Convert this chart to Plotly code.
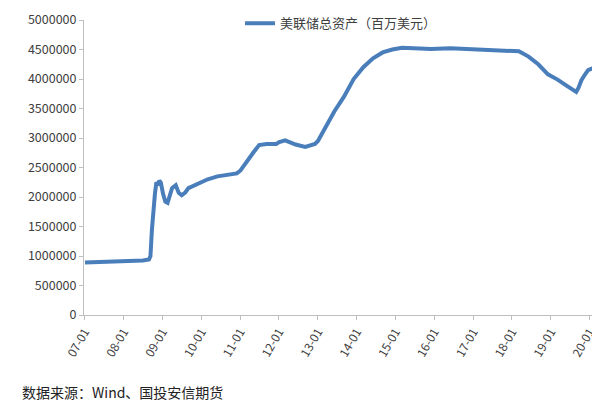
import plotly.graph_objects as go

dates = [
    "2007-01-03", "2007-04-01", "2007-07-01", "2007-10-01", "2008-01-01", "2008-04-01",
    "2008-07-01", "2008-08-27", "2008-09-10", "2008-09-24", "2008-10-08", "2008-10-22",
    "2008-11-05", "2008-11-19", "2008-12-03", "2008-12-17", "2009-01-07", "2009-01-28",
    "2009-02-18", "2009-03-11", "2009-04-01", "2009-05-06", "2009-06-03", "2009-07-01",
    "2009-08-05", "2009-09-02", "2009-10-07", "2009-11-04", "2009-12-02", "2010-01-06",
    "2010-03-03", "2010-06-02", "2010-09-01", "2010-12-01", "2011-01-05", "2011-03-02",
    "2011-05-04", "2011-06-29", "2011-09-07", "2011-12-07", "2012-01-04", "2012-02-29",
    "2012-06-06", "2012-09-05", "2012-12-05", "2013-01-02", "2013-03-06", "2013-06-05",
    "2013-09-04", "2013-12-04", "2014-03-05", "2014-06-04", "2014-09-03", "2014-12-03",
    "2015-03-04", "2015-06-03", "2015-12-02", "2016-06-01", "2016-12-07", "2017-06-07",
    "2017-12-06", "2018-03-07", "2018-06-06", "2018-09-05", "2018-12-05", "2019-03-06",
    "2019-06-05", "2019-08-28", "2019-09-18", "2019-10-16", "2019-11-20", "2019-12-18",
    "2020-01-15", "2020-02-19", "2020-03-04",
]
assets = [
    890000, 895000, 900000, 895000, 915000, 910000,
    925000, 940000, 1000000, 1450000, 1800000, 2050000,
    2250000, 2200000, 2280000, 2240000, 2050000, 1920000,
    1900000, 2050000, 2150000, 2200000, 2070000, 2030000,
    2080000, 2150000, 2180000, 2200000, 2230000, 2260000,
    2300000, 2350000, 2380000, 2400000, 2450000, 2600000,
    2750000, 2880000, 2900000, 2900000, 2930000, 2960000,
    2890000, 2850000, 2900000, 2950000, 3150000, 3450000,
    3700000, 4000000, 4200000, 4350000, 4450000, 4500000,
    4530000, 4520000, 4510000, 4520000, 4510000, 4500000,
    4480000, 4470000, 4380000, 4250000, 4080000, 3990000,
    3880000, 3780000, 3850000, 3980000, 4080000, 4150000,
    4170000, 4200000, 4350000,
]

fig = go.Figure()
fig.add_trace(go.Scatter(
    x=dates, y=assets, mode="lines",
    line=dict(color="#4A7EBB", width=4),
    name="美联储总资产（百万美元）",
))
fig.update_layout(
    width=600, height=402,
    paper_bgcolor="white", plot_bgcolor="white",
    font=dict(family="Noto Sans CJK SC", size=12, color="#404040"),
    margin=dict(l=76, r=10, t=12, b=95, autoexpand=False),
    showlegend=True,
    legend=dict(orientation="h", x=0.5, xanchor="center", y=1.04, yanchor="top",
                font=dict(size=13), bgcolor="rgba(0,0,0,0)"),
    annotations=[dict(xref="paper", yref="paper", x=-0.125, y=-0.22, xanchor="left",
                      yanchor="top", showarrow=False,
                      text="数据来源：Wind、国投安信期货",
                      font=dict(size=14, color="#222222"))],
)
fig.update_xaxes(
    type="date", range=["2006-12-25", "2020-03-20"],
    tickvals=[f"{y}-01-01" for y in range(2007, 2021)],
    ticktext=[f"{y % 100:02d}-01" for y in range(2007, 2021)],
    tickangle=-60, showgrid=False, showline=True, linecolor="#BFBFBF",
    ticks="outside", tickcolor="#BFBFBF", ticklen=4, tickfont=dict(size=12),
    automargin=False,
)
fig.update_yaxes(
    range=[0, 5000000], dtick=500000, tickformat="d",
    showgrid=False, showline=True, linecolor="#BFBFBF",
    ticks="outside", tickcolor="#BFBFBF", ticklen=4, tickfont=dict(size=12.5),
    zeroline=False, automargin=False,
)
fig.write_html("out.html")
